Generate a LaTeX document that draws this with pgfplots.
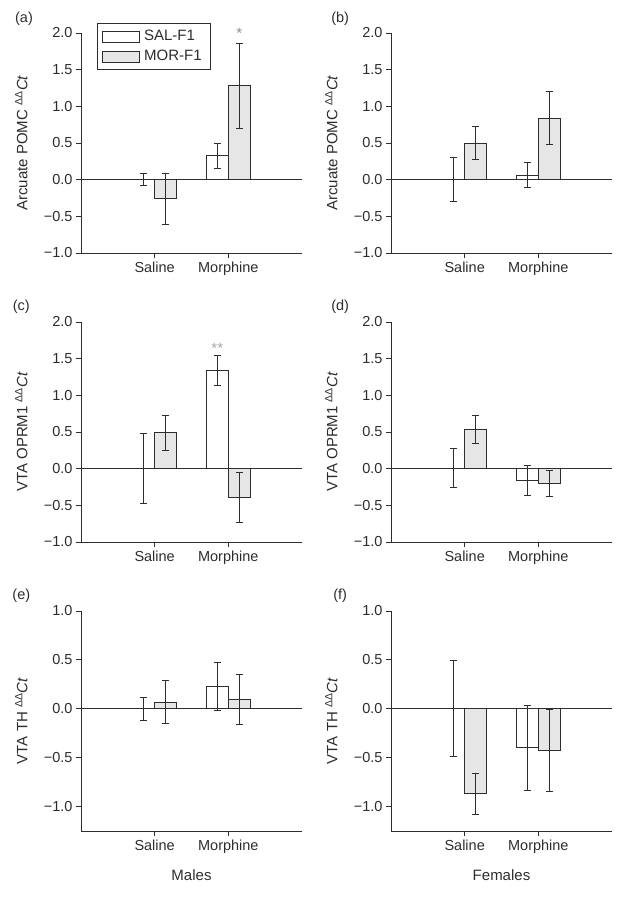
\documentclass[border=0pt]{standalone}
\usepackage{pgfplots}
\pgfplotsset{compat=1.18}
\usepackage{pgfplotstable}
\usepackage{fontspec}
\setmainfont{Liberation Sans}
\definecolor{ink}{RGB}{45,45,45}
\definecolor{morfill}{RGB}{230,230,230}

\pgfplotstableread{
x y e
-0.15 0.00 0.08
0.85 0.33 0.17
}\aSAL
\pgfplotstableread{
x y e
0.15 -0.26 0.35
1.15 1.28 0.58
}\aMOR
\pgfplotstableread{
x y e
-0.15 0.00 0.30
0.85 0.06 0.17
}\bSAL
\pgfplotstableread{
x y e
0.15 0.50 0.22
1.15 0.84 0.36
}\bMOR
\pgfplotstableread{
x y e
-0.15 0.00 0.48
0.85 1.34 0.20
}\cSAL
\pgfplotstableread{
x y e
0.15 0.49 0.24
1.15 -0.39 0.34
}\cMOR
\pgfplotstableread{
x y e
-0.15 0.01 0.26
0.85 -0.16 0.21
}\dSAL
\pgfplotstableread{
x y e
0.15 0.54 0.19
1.15 -0.20 0.18
}\dMOR
\pgfplotstableread{
x y e
-0.15 0.00 0.115
0.85 0.23 0.245
}\eSAL
\pgfplotstableread{
x y e
0.15 0.07 0.22
1.15 0.10 0.255
}\eMOR
\pgfplotstableread{
x y e
-0.15 0.005 0.49
0.85 -0.40 0.43
}\fSAL
\pgfplotstableread{
x y e
0.15 -0.87 0.21
1.15 -0.43 0.42
}\fMOR

\tikzset{panellabel/.style={font=\fontsize{14.5}{16}\selectfont, text=ink}}

\pgfplotsset{
  panel/.style={
    scale only axis, width=221pt, height=220pt, anchor=south west,
    xmin=-1, xmax=2, xtick={0,1}, xticklabels={Saline,Morphine},
    axis x line*=bottom, axis y line*=left,
    axis line style={ink, line width=0.8pt},
    tick align=outside, major tick length=5pt,
    every tick/.style={ink, line width=0.8pt},
    tick label style={font=\fontsize{14.5}{16}\selectfont, text=ink},
    label style={font=\fontsize{15}{17}\selectfont, text=ink},
    y label style={at={(axis description cs:-0.27,0.5)}, anchor=center, rotate=0},
    x label style={at={(axis description cs:0.5,-0.16)}, anchor=north},
    extra y ticks={0}, extra y tick labels={},
    extra y tick style={grid=major, major tick length=0pt, major grid style={ink, line width=0.8pt}},
    clip=false,
  },
  bigrange/.style={ymin=-1, ymax=2, ytick={-1,-0.5,0,0.5,1,1.5,2},
    yticklabels={−1.0,−0.5,0.0,0.5,1.0,1.5,2.0}},
  smallrange/.style={ymin=-1.25, ymax=1, ytick={-1,-0.5,0,0.5,1},
    yticklabels={−1.0,−0.5,0.0,0.5,1.0}},
  errs/.style={
    error bars/y dir=both, error bars/y explicit,
    error bars/error bar style={ink, line width=0.8pt},
    error bars/error mark options={rotate=90, mark size=3.5pt, ink, line width=0.8pt}},
  salbar/.style={ybar, bar width=0.3, bar shift=0pt, draw=ink, line width=0.8pt, fill=white, errs,
    legend image code/.code={\draw[ink, line width=0.8pt, fill=white] (0pt,-5.5pt) rectangle (37pt,5.5pt);}},
  morbar/.style={ybar, bar width=0.3, bar shift=0pt, draw=ink, line width=0.8pt, fill=morfill, errs,
    legend image code/.code={\draw[ink, line width=0.8pt, fill=morfill] (0pt,-5.5pt) rectangle (37pt,5.5pt);}},
}

\begin{document}
\begin{tikzpicture}
\useasboundingbox (0,0) rectangle (624pt,897pt);

% (a)
\begin{axis}[panel, bigrange, at={(81pt,644pt)},
  ylabel={Arcuate POMC \textsuperscript{ΔΔ}\textit{Ct}},
  legend style={at={(0.072,1.045)}, anchor=north west, draw=ink, line width=0.8pt,
    font=\fontsize{15}{17}\selectfont, text=ink, inner xsep=5pt, inner ysep=5pt, row sep=4pt,
    nodes={inner xsep=4pt}},
  legend cell align=left]
\addplot[salbar] table[x=x, y=y, y error=e] {\aSAL};
\addlegendentry{SAL-F1}
\addplot[morbar] table[x=x, y=y, y error=e] {\aMOR};
\addlegendentry{MOR-F1}
\node[panellabel] at (rel axis cs:-0.258,1.064) {(a)};
\node[text=black!45, font=\fontsize{15}{16}\selectfont] at (axis cs:1.15,2.0) {*};
\end{axis}

% (b)
\begin{axis}[panel, bigrange, at={(391pt,644pt)},
  ylabel={Arcuate POMC \textsuperscript{ΔΔ}\textit{Ct}}]
\addplot[salbar] table[x=x, y=y, y error=e] {\bSAL};
\addplot[morbar] table[x=x, y=y, y error=e] {\bMOR};
\node[panellabel] at (rel axis cs:-0.23,1.064) {(b)};
\end{axis}

% (c)
\begin{axis}[panel, bigrange, at={(81pt,355pt)},
  ylabel={VTA OPRM1 \textsuperscript{ΔΔ}\textit{Ct}}]
\addplot[salbar] table[x=x, y=y, y error=e] {\cSAL};
\addplot[morbar] table[x=x, y=y, y error=e] {\cMOR};
\node[panellabel] at (rel axis cs:-0.27,1.07) {(c)};
\node[text=black!35, font=\fontsize{15}{16}\selectfont] at (axis cs:0.85,1.64) {**};
\end{axis}

% (d)
\begin{axis}[panel, bigrange, at={(391pt,355pt)},
  ylabel={VTA OPRM1 \textsuperscript{ΔΔ}\textit{Ct}}]
\addplot[salbar] table[x=x, y=y, y error=e] {\dSAL};
\addplot[morbar] table[x=x, y=y, y error=e] {\dMOR};
\node[panellabel] at (rel axis cs:-0.23,1.07) {(d)};
\end{axis}

% (e)
\begin{axis}[panel, smallrange, at={(81pt,66pt)},
  ylabel={VTA TH \textsuperscript{ΔΔ}\textit{Ct}}, xlabel={Males}]
\addplot[salbar] table[x=x, y=y, y error=e] {\eSAL};
\addplot[morbar] table[x=x, y=y, y error=e] {\eMOR};
\node[panellabel] at (rel axis cs:-0.27,1.07) {(e)};
\end{axis}

% (f)
\begin{axis}[panel, smallrange, at={(391pt,66pt)},
  ylabel={VTA TH \textsuperscript{ΔΔ}\textit{Ct}}, xlabel={Females}]
\addplot[salbar] table[x=x, y=y, y error=e] {\fSAL};
\addplot[morbar] table[x=x, y=y, y error=e] {\fMOR};
\node[panellabel] at (rel axis cs:-0.23,1.07) {(f)};
\end{axis}
\end{tikzpicture}
\end{document}
